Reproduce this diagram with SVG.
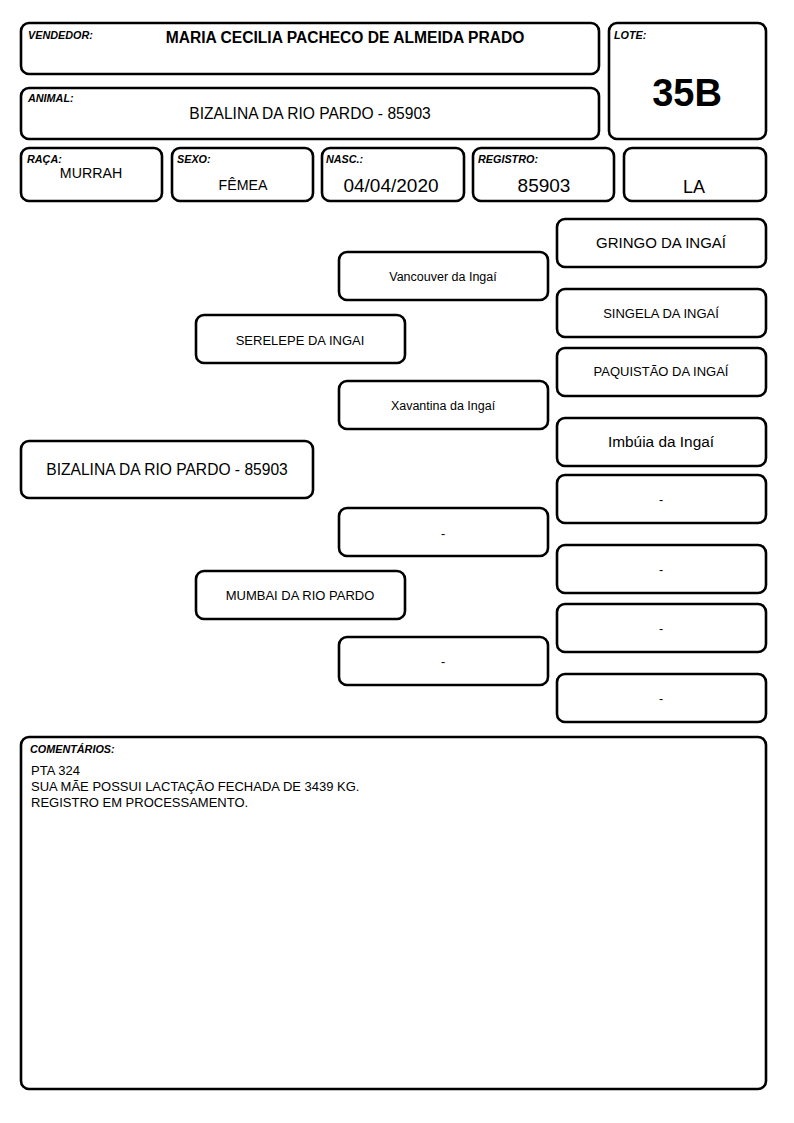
<svg xmlns="http://www.w3.org/2000/svg" width="794" height="1123" viewBox="0 0 794 1123">
<style>
.box{fill:#fff;stroke:#000;stroke-width:2.6}
.lbl{font-family:"Liberation Sans",Arial,sans-serif;font-size:10.8px;font-weight:bold;font-style:italic;fill:#000}
.t{font-family:"Liberation Sans",Arial,sans-serif;fill:#000;text-anchor:middle}
.c{font-family:"Liberation Sans",Arial,sans-serif;fill:#000;font-size:13px}
</style>
<rect width="794" height="1123" fill="#fff"/>
<g id="vendedor">
<rect class="box" x="21" y="23" width="578" height="51" rx="8"/>
<text class="lbl" x="28" y="39">VENDEDOR:</text>
<text class="t" x="345" y="43" font-size="15.6" font-weight="bold">MARIA CECILIA PACHECO DE ALMEIDA PRADO</text>
</g>
<g id="animal">
<rect class="box" x="21" y="88" width="578" height="51" rx="8"/>
<text class="lbl" x="28" y="102">ANIMAL:</text>
<text class="t" x="310" y="119" font-size="15.6">BIZALINA DA RIO PARDO - 85903</text>
</g>
<g id="lote">
<rect class="box" x="609" y="23" width="157" height="116" rx="8"/>
<text class="lbl" x="614" y="39">LOTE:</text>
<text class="t" x="687" y="106" font-size="38" font-weight="bold">35B</text>
</g>
<g id="raca">
<rect class="box" x="21" y="148" width="141" height="53" rx="8"/>
<text class="lbl" x="27" y="163">RAÇA:</text>
<text class="t" x="91" y="178" font-size="14.2">MURRAH</text>
</g>
<g id="sexo">
<rect class="box" x="172" y="148" width="141" height="53" rx="8"/>
<text class="lbl" x="177" y="163">SEXO:</text>
<text class="t" x="243" y="190" font-size="14.2">FÊMEA</text>
</g>
<g id="nasc">
<rect class="box" x="322" y="148" width="142" height="53" rx="8"/>
<text class="lbl" x="326" y="163">NASC.:</text>
<text class="t" x="391" y="192" font-size="19">04/04/2020</text>
</g>
<g id="registro">
<rect class="box" x="473" y="148" width="141" height="53" rx="8"/>
<text class="lbl" x="478" y="163">REGISTRO:</text>
<text class="t" x="544" y="192" font-size="19">85903</text>
</g>
<g id="la">
<rect class="box" x="624" y="148" width="142" height="53" rx="8"/>
<text class="t" x="694" y="193" font-size="18">LA</text>
</g>
<g id="connectors"></g>
<g id="animal-main">
<rect class="box" x="21" y="441" width="292" height="57" rx="8"/>
<text class="t" x="167" y="475" font-size="15.6">BIZALINA DA RIO PARDO - 85903</text>
</g>
<g id="pai">
<rect class="box" x="196" y="315" width="209" height="48" rx="8"/>
<text class="t" x="300" y="345" font-size="13">SERELEPE DA INGAI</text>
</g>
<g id="mae">
<rect class="box" x="196" y="571" width="209" height="48" rx="8"/>
<text class="t" x="300" y="600" font-size="13">MUMBAI DA RIO PARDO</text>
</g>
<g id="avo-pp">
<rect class="box" x="339" y="252" width="209" height="48" rx="8"/>
<text class="t" x="443" y="281" font-size="12.5">Vancouver da Ingaí</text>
</g>
<g id="avo-pm">
<rect class="box" x="339" y="381" width="209" height="48" rx="8"/>
<text class="t" x="443" y="410" font-size="12.5">Xavantina da Ingaí</text>
</g>
<g id="avo-mp">
<rect class="box" x="339" y="508" width="209" height="48" rx="8"/>
<text class="t" x="443" y="538" font-size="12.5">-</text>
</g>
<g id="avo-mm">
<rect class="box" x="339" y="637" width="209" height="48" rx="8"/>
<text class="t" x="443" y="666" font-size="12.5">-</text>
</g>
<g id="bisavo-1">
<rect class="box" x="557" y="219" width="209" height="48" rx="8"/>
<text class="t" x="661" y="248" font-size="15">GRINGO DA INGAÍ</text>
</g>
<g id="bisavo-2">
<rect class="box" x="557" y="289" width="209" height="48" rx="8"/>
<text class="t" x="661" y="318" font-size="13">SINGELA DA INGAÍ</text>
</g>
<g id="bisavo-3">
<rect class="box" x="557" y="348" width="209" height="48" rx="8"/>
<text class="t" x="661" y="376" font-size="13">PAQUISTÃO DA INGAÍ</text>
</g>
<g id="bisavo-4">
<rect class="box" x="557" y="418" width="209" height="48" rx="8"/>
<text class="t" x="661" y="447" font-size="15.4">Imbúia da Ingaí</text>
</g>
<g id="bisavo-5">
<rect class="box" x="557" y="475" width="209" height="48" rx="8"/>
<text class="t" x="661" y="504" font-size="12.5">-</text>
</g>
<g id="bisavo-6">
<rect class="box" x="557" y="545" width="209" height="48" rx="8"/>
<text class="t" x="661" y="574" font-size="12.5">-</text>
</g>
<g id="bisavo-7">
<rect class="box" x="557" y="604" width="209" height="48" rx="8"/>
<text class="t" x="661" y="633" font-size="12.5">-</text>
</g>
<g id="bisavo-8">
<rect class="box" x="557" y="674" width="209" height="48" rx="8"/>
<text class="t" x="661" y="703" font-size="12.5">-</text>
</g>
<g id="comentarios">
<rect class="box" x="21" y="737" width="745" height="352" rx="8"/>
<text class="lbl" x="30" y="753">COMENTÁRIOS:</text>
<text class="c" x="31" y="775">PTA 324</text>
<text class="c" x="31" y="791">SUA MÃE POSSUI LACTAÇÃO FECHADA DE 3439 KG.</text>
<text class="c" x="31" y="807">REGISTRO EM PROCESSAMENTO.</text>
</g>
</svg>
